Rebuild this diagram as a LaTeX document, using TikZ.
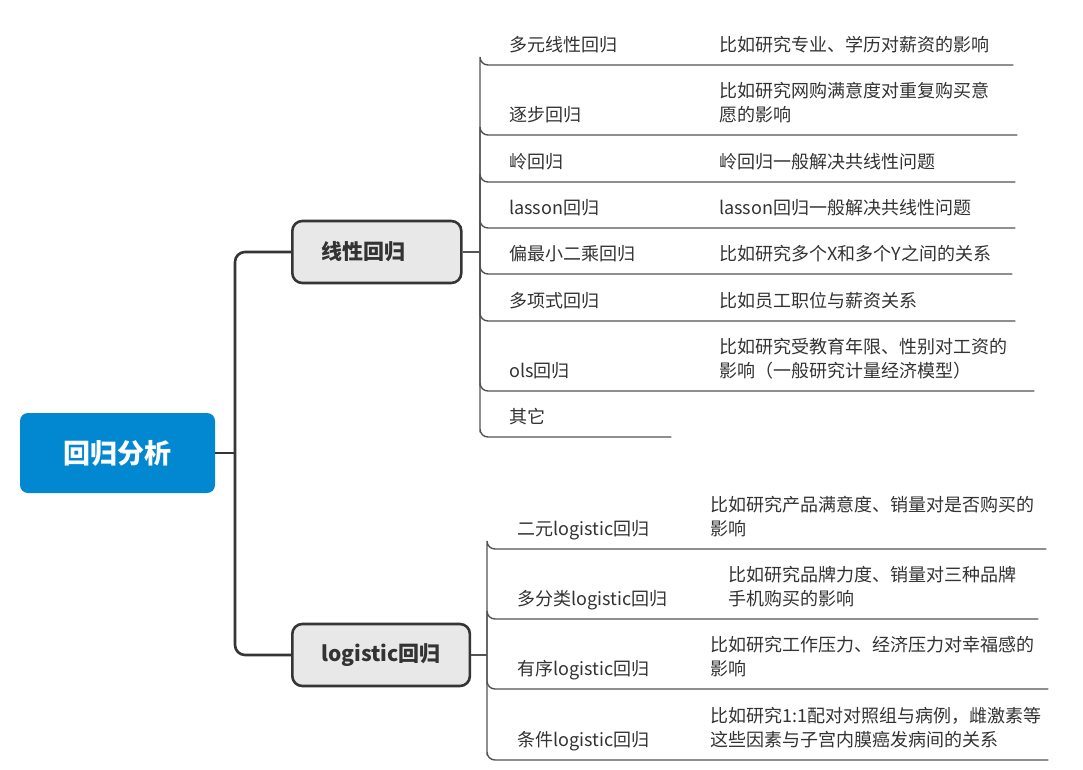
\documentclass[tikz,border=0pt]{standalone}
\usepackage{fontspec}
\setmainfont{Noto Sans CJK SC}
\definecolor{rootblue}{HTML}{0288D1}
\definecolor{edgegray}{HTML}{353535}
\definecolor{boxgray}{HTML}{E8E8E8}
\definecolor{inkgray}{HTML}{333333}

\begin{document}
\begin{tikzpicture}[x=1pt,y=-1pt,
  rootbox/.style={fill=rootblue, rounded corners=8pt, minimum width=195pt, minimum height=80pt, inner sep=0pt, text=white, font={\fontsize{27}{30}\selectfont\bfseries}},
  mainbox/.style={fill=boxgray, draw=edgegray, line width=2.6pt, rounded corners=10pt, anchor=west, minimum height=62pt, inner xsep=29pt, text=inkgray, font={\fontsize{21}{24}\selectfont\bfseries}},
  subtopic/.style={anchor=south west, inner xsep=29pt, inner ysep=9pt, text height=14pt, text depth=4pt, align=left, text=inkgray, font={\fontsize{18}{24}\selectfont}},
  detail/.style={anchor=south west, inner xsep=0pt, inner ysep=9pt, align=left, text=inkgray, font={\fontsize{18}{24}\selectfont}, execute at end node={\rule[-4pt]{0pt}{4pt}}},
  trunk/.style={draw=edgegray, line width=2.6pt},
  twig/.style={draw=edgegray!85, line width=1.4pt, rounded corners=8pt},
]
\fill[white] (0,0) rectangle (1083,770);
\useasboundingbox (0,0) rectangle (1083,770);

% root and main branches
\node[rootbox] (root) at (117.5,453) {回归分析};
\node[mainbox, text width=111pt, align=left] (lin) at (291,252) {线性回归};
\node[mainbox] (logi) at (291,655) {logistic回归};
\coordinate (rootfork) at (235,453);
\draw[trunk] (root.east) -- (rootfork);
\draw[trunk, rounded corners=10pt] (rootfork) |- (lin.west);
\draw[trunk, rounded corners=10pt] (rootfork) |- (logi.west);

% linear regression
\coordinate (linfork) at (480,252);
\draw[twig] (lin.east) -- (linfork);
\node[subtopic, text width=133pt] (l1) at (480,65) {多元线性回归};
\node[detail, text width=294pt] (m1) at (719,65) {比如研究专业、学历对薪资的影响};
\draw[twig] (linfork) |- (l1.south west) -- (m1.south east);
\node[subtopic, text width=133pt] (l2) at (480,135) {逐步回归};
\node[detail, text width=298pt] (m2) at (719,135) {比如研究网购满意度对重复购买意\\愿的影响};
\draw[twig] (linfork) |- (l2.south west) -- (m2.south east);
\node[subtopic, text width=133pt] (l3) at (480,182) {岭回归};
\node[detail, text width=296pt] (m3) at (719,182) {岭回归一般解决共线性问题};
\draw[twig] (linfork) |- (l3.south west) -- (m3.south east);
\node[subtopic, text width=133pt] (l4) at (480,228) {lasson回归};
\node[detail, text width=296pt] (m4) at (719,228) {lasson回归一般解决共线性问题};
\draw[twig] (linfork) |- (l4.south west) -- (m4.south east);
\node[subtopic, text width=133pt] (l5) at (480,274) {偏最小二乘回归};
\node[detail, text width=293pt] (m5) at (719,274) {比如研究多个X和多个Y之间的关系};
\draw[twig] (linfork) |- (l5.south west) -- (m5.south east);
\node[subtopic, text width=133pt] (l6) at (480,321) {多项式回归};
\node[detail, text width=296pt] (m6) at (719,321) {比如员工职位与薪资关系};
\draw[twig] (linfork) |- (l6.south west) -- (m6.south east);
\node[subtopic, text width=133pt] (l7) at (480,391) {ols回归};
\node[detail, text width=315pt] (m7) at (719,391) {比如研究受教育年限、性别对工资的\\影响（一般研究计量经济模型）};
\draw[twig] (linfork) |- (l7.south west) -- (m7.south east);
\node[subtopic, text width=133pt] (l8) at (480,437) {其它};
\draw[twig] (linfork) |- (l8.south west) -- (l8.south east);

% logistic regression
\coordinate (logifork) at (487,655);
\draw[twig] (logi.east) -- (logifork);
\node[subtopic, inner xsep=30pt] (g1) at (487,549) {二元logistic回归};
\node[detail, text width=336pt] (h1) at (710,549) {比如研究产品满意度、销量对是否购买的\\影响};
\draw[twig] (logifork) |- (g1.south west) -- (h1.south east);
\node[subtopic, inner xsep=30pt] (g2) at (487,619) {多分类logistic回归};
\node[detail, text width=310pt] (h2) at (728,619) {比如研究品牌力度、销量对三种品牌\\手机购买的影响};
\draw[twig] (logifork) |- (g2.south west) -- (h2.south east);
\node[subtopic, inner xsep=30pt] (g3) at (487,689) {有序logistic回归};
\node[detail, text width=338pt] (h3) at (710,689) {比如研究工作压力、经济压力对幸福感的\\影响};
\draw[twig] (logifork) |- (g3.south west) -- (h3.south east);
\node[subtopic, inner xsep=30pt] (g4) at (487,760) {条件logistic回归};
\node[detail, text width=338pt] (h4) at (710,760) {比如研究1:1配对对照组与病例，雌激素等\\这些因素与子宫内膜癌发病间的关系};
\draw[twig] (logifork) |- (g4.south west) -- (h4.south east);
\end{tikzpicture}
\end{document}
